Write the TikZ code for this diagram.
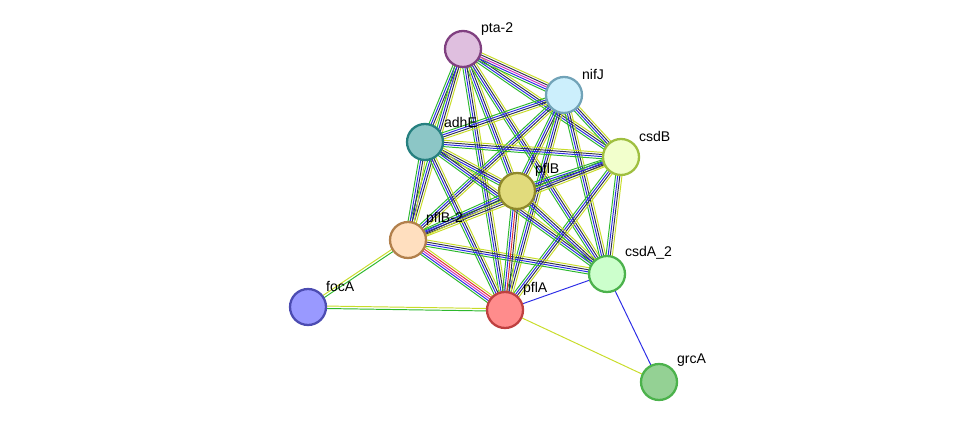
\documentclass[tikz,border=0pt]{standalone}
\usepackage{fontspec}
\setmainfont{Liberation Sans}
\usetikzlibrary{calc}
\definecolor{eg}{HTML}{2DB82D}
\definecolor{eb}{HTML}{2B2BE6}
\definecolor{ek}{HTML}{303050}
\definecolor{ey}{HTML}{C8DC28}
\definecolor{em}{HTML}{D030C0}
\definecolor{er}{HTML}{E03030}
\tikzset{
  prot/.style={circle,minimum size=36*0.02cm,inner sep=0pt,line width=1.3pt},
  lab/.style={font=\fontsize{8}{9}\selectfont,anchor=south west,inner sep=1pt},
  el/.style={line width=0.55pt}
}
\newcommand\ml[3]{\foreach \cc/\oo in #3{\draw[el,\cc] ($(#1)!\oo pt!90:(#2)$) -- ($(#2)!\oo pt!-90:(#1)$);}}
\begin{document}
\begin{tikzpicture}[x=0.02cm,y=-0.02cm]
\useasboundingbox (0,0) rectangle (976,428);
\coordinate (pta) at (463,49);
\coordinate (nif) at (564,95);
\coordinate (adh) at (425,142);
\coordinate (csdB) at (621,157);
\coordinate (pflB) at (517,191);
\coordinate (pflBb) at (408,240);
\coordinate (csdA) at (607,274);
\coordinate (foc) at (308,307);
\coordinate (pflA) at (505,310);
\coordinate (grc) at (659,382);
\def\full{eg/-1.8,eb/-0.6,ek/0.6,ey/1.8}
\def\fullm{eg/-2.4,eb/-1.2,em/0,ek/1.2,ey/2.4}
\def\fullr{eg/-2.4,eb/-1.2,em/0,er/1.2,ey/2.4}
\def\fullk{eg/-2.4,eb/-1.2,er/0,ek/1.2,ey/2.4}
\def\gy{eg/-0.7,ey/0.7}
\def\yo{ey/0}
\def\bo{eb/0}
\foreach \a/\b in {pta/adh,pta/csdB,pta/pflB,pta/pflBb,pta/csdA,pta/pflA,
  nif/adh,nif/csdB,nif/pflB,nif/pflBb,nif/csdA,nif/pflA,
  adh/csdB,adh/pflB,adh/pflBb,adh/csdA,adh/pflA,
  csdB/pflB,csdB/pflBb,csdB/csdA,csdB/pflA,
  pflB/pflBb,pflB/csdA,pflBb/csdA}{\ml{\a}{\b}{\full}}
\ml{pta}{nif}{\fullm}
\ml{pflBb}{pflA}{\fullr}
\ml{pflB}{pflA}{\fullk}
\ml{foc}{pflBb}{\gy}
\ml{foc}{pflA}{\gy}
\ml{pflA}{grc}{\yo}
\ml{csdA}{grc}{\bo}
\ml{pflA}{csdA}{\bo}
\node[prot,draw=violet!50!gray,fill=violet!25] (n1) at (pta) {};
\node[prot,draw=cyan!40!gray,fill=cyan!20] (n2) at (nif) {};
\node[prot,draw=teal!70!gray,fill=teal!45] (n3) at (adh) {};
\node[prot,draw=lime!50!gray,fill=lime!20] (n4) at (csdB) {};
\node[prot,draw=olive!70!gray,fill=yellow!40!olive!45] (n5) at (pflB) {};
\node[prot,draw=orange!40!gray,fill=orange!25] (n6) at (pflBb) {};
\node[prot,draw=green!40!gray,fill=green!20] (n7) at (csdA) {};
\node[prot,draw=blue!40!gray,fill=blue!40] (n8) at (foc) {};
\node[prot,draw=red!50!gray,fill=red!45] (n9) at (pflA) {};
\node[prot,draw=green!40!gray,fill=green!40!gray!60] (n10) at (grc) {};
\node[lab] at (479,38) {pta-2};
\node[lab] at (580,82) {nifJ};
\node[lab] at (442,130) {adhE};
\node[lab] at (637,144) {csdB};
\node[lab] at (533,179) {pflB};
\node[lab] at (424,228) {pflB-2};
\node[lab] at (623,261) {csdA\_2};
\node[lab] at (324,294) {focA};
\node[lab] at (521,298) {pflA};
\node[lab] at (675,369) {grcA};
\end{tikzpicture}
\end{document}
